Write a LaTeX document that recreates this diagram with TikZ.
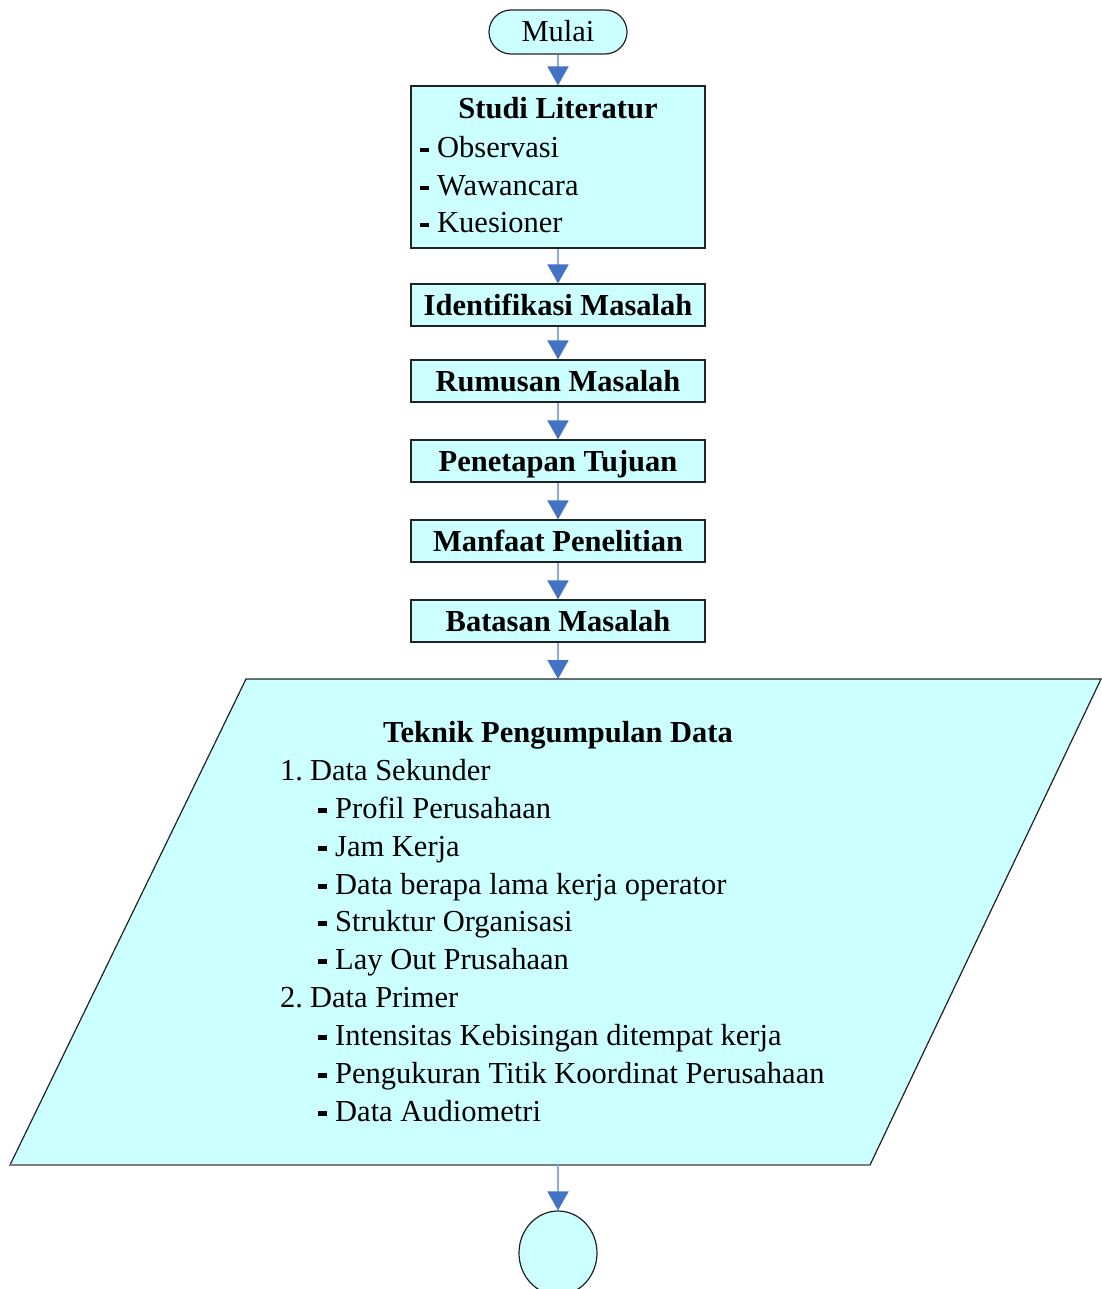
\documentclass[tikz,border=0pt]{standalone}
\usepackage{fontspec}
\setmainfont{Liberation Serif}
\usetikzlibrary{arrows.meta,shapes.geometric}
\definecolor{boxfill}{HTML}{CCFFFF}
\definecolor{arrline}{HTML}{8FAADC}
\definecolor{arrhead}{HTML}{4472C4}
\definecolor{edge}{HTML}{222222}
\newcommand{\dashmark}{\rule[5.5pt]{9pt}{4.5pt}\hspace{8pt}}
\begin{document}
\begin{tikzpicture}[x=1pt,y=-1pt,
  every node/.style={font=\fontsize{30.5}{36}\selectfont},
  stepbox/.style={draw=edge,line width=1.2pt,fill=boxfill,minimum width=294pt,minimum height=42pt,inner sep=0pt},
  boldtxt/.style={anchor=base,inner sep=0pt,font=\fontsize{30.5}{36}\selectfont\bfseries},
  plaintxt/.style={anchor=base west,inner sep=0pt},
  flow/.style={draw=arrline,line width=1.8pt,-{Triangle[length=19pt,width=21pt,color=arrhead]}}]
\useasboundingbox (0,0) rectangle (1101,1289);
% start terminal
\node[draw=edge,line width=1.2pt,fill=boxfill,rounded corners=22pt,minimum width=138pt,minimum height=44pt,inner sep=0pt] (mulai) at (558,32) {};
\node[anchor=base,inner sep=0pt] (mulaitxt) at (558,42) {Mulai};
% Studi literatur
\node[stepbox,minimum height=162pt] (studi) at (558,167) {};
\node[boldtxt] (studit) at (558,119) {Studi Literatur};
\node[plaintxt] (s1) at (420,158) {\dashmark Observasi};
\node[plaintxt] (s2) at (420,196) {\dashmark Wawancara};
\node[plaintxt] (s3) at (420,233) {\dashmark Kuesioner};
% steps
\node[stepbox] (ident) at (558,305) {};
\node[boldtxt] (identt) at (558,315) {Identifikasi Masalah};
\node[stepbox] (rumus) at (558,381) {};
\node[boldtxt] (rumust) at (558,391) {Rumusan Masalah};
\node[stepbox] (tujuan) at (558,461) {};
\node[boldtxt] (tujuant) at (558,471) {Penetapan Tujuan};
\node[stepbox] (manfaat) at (558,541) {};
\node[boldtxt] (manfaatt) at (558,551) {Manfaat Penelitian};
\node[stepbox] (batas) at (558,621) {};
\node[boldtxt] (batast) at (558,631) {Batasan Masalah};
% data parallelogram
\coordinate (ptl) at (246,679);
\coordinate (ptr) at (1101,679);
\coordinate (pbr) at (870,1165);
\coordinate (pbl) at (10,1165);
\coordinate (ptop) at (558,679);
\coordinate (pbot) at (558,1165);
\filldraw[fill=boxfill,draw=edge,line width=1.2pt] (ptl) -- (ptr) -- (pbr) -- (pbl) -- cycle;
\draw[draw=gray,line width=1.8pt] (pbl) -- (pbr);
\node[boldtxt] (dtitle) at (558,742) {Teknik Pengumpulan Data};
\node[plaintxt] (d1) at (280,780) {1.\hspace{7pt}Data Sekunder};
\node[plaintxt] (d11) at (318,818) {\dashmark Profil Perusahaan};
\node[plaintxt] (d12) at (318,856) {\dashmark Jam Kerja};
\node[plaintxt] (d13) at (318,894) {\dashmark Data berapa lama kerja operator};
\node[plaintxt] (d14) at (318,931) {\dashmark Struktur Organisasi};
\node[plaintxt] (d15) at (318,969) {\dashmark Lay Out Prusahaan};
\node[plaintxt] (d2) at (280,1007) {2.\hspace{7pt}Data Primer};
\node[plaintxt] (d21) at (318,1045) {\dashmark Intensitas Kebisingan ditempat kerja};
\node[plaintxt] (d22) at (318,1083) {\dashmark Pengukuran Titik Koordinat Perusahaan};
\node[plaintxt] (d23) at (318,1121) {\dashmark Data Audiometri};
% connector circle
\node[draw=edge,line width=1.2pt,fill=boxfill,ellipse,minimum width=78pt,minimum height=84pt,inner sep=0pt] (conn) at (558,1253) {};
% arrows
\draw[flow] (mulai.south) -- (studi.north);
\draw[flow] (studi.south) -- (ident.north);
\draw[flow] (ident.south) -- (rumus.north);
\draw[flow] (rumus.south) -- (tujuan.north);
\draw[flow] (tujuan.south) -- (manfaat.north);
\draw[flow] (manfaat.south) -- (batas.north);
\draw[flow] (batas.south) -- (ptop);
\draw[flow] (pbot) -- (conn.north);
\end{tikzpicture}
\end{document}
